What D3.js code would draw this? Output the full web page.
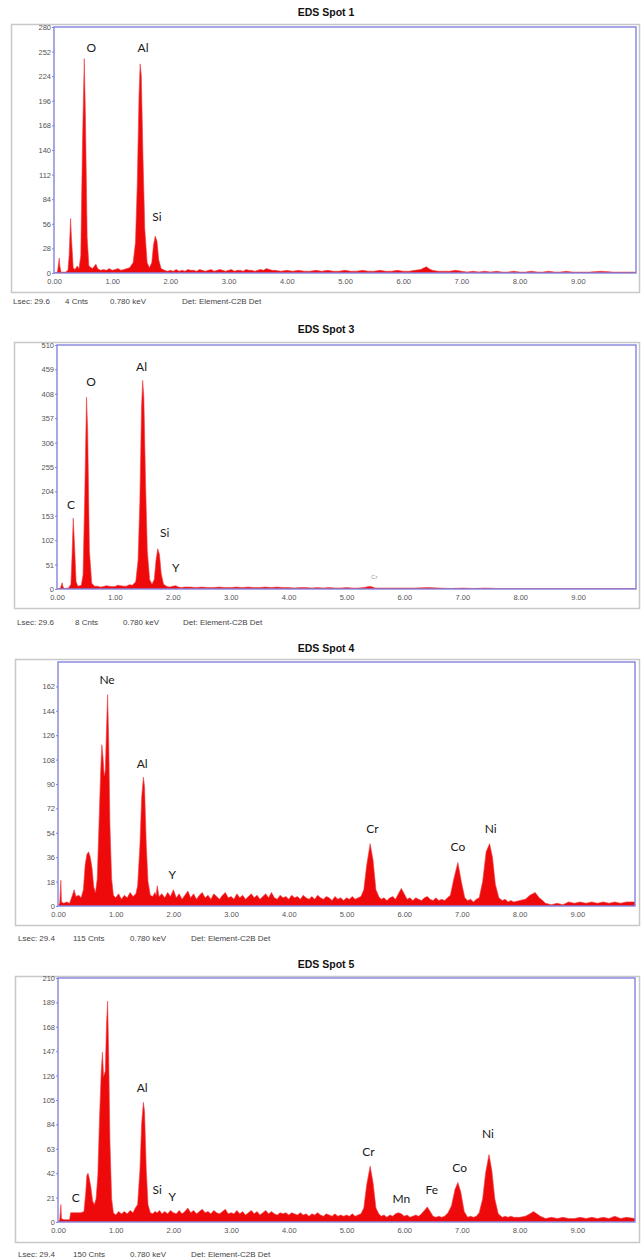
<!DOCTYPE html>
<html><head><meta charset="utf-8">
<script src="https://cdn.jsdelivr.net/npm/d3@7"></script>
<style>body{margin:0;background:#fff}svg{display:block}</style>
</head><body>
<svg id="chart" width="641" height="1260"></svg>
<script>
// ---------- DATA ----------
const titles = ["EDS Spot 1", "EDS Spot 3", "EDS Spot 4", "EDS Spot 5"];
const yMaxes = [280, 510, 180, 210];
const yTicks1 = [0, 28, 56, 84, 112, 140, 168, 196, 224, 252, 280];
const yTicks3 = [0, 51, 102, 153, 204, 255, 306, 357, 408, 459, 510];
const yTicks4 = [0, 18, 36, 54, 72, 90, 108, 126, 144, 162];
const yTicks5 = [0, 21, 42, 63, 84, 105, 126, 147, 168, 189, 210];
const xTicks = [0, 1, 2, 3, 4, 5, 6, 7, 8, 9];
const footers = [
  ["Lsec: 29.6", "4 Cnts", "0.780 keV", "Det: Element-C2B Det"],
  ["Lsec: 29.6", "8 Cnts", "0.780 keV", "Det: Element-C2B Det"],
  ["Lsec: 29.4", "115 Cnts", "0.780 keV", "Det: Element-C2B Det"],
  ["Lsec: 29.4", "150 Cnts", "0.780 keV", "Det: Element-C2B Det"]
];
// spectra: [keV, counts]
const spot1 = [[0,0],[0.06,1],[0.08,12],[0.09,17],[0.10,8],[0.12,1],[0.2,1],[0.24,3],[0.26,20],[0.285,62],[0.30,40],[0.33,6],[0.36,4],[0.40,8],[0.43,5],[0.46,20],[0.49,150],[0.52,244],[0.54,180],[0.57,40],[0.60,8],[0.66,5],[0.72,10],[0.75,5],[0.8,3],[0.85,4],[0.9,3],[0.95,5],[1.0,3],[1.05,4],[1.1,5],[1.15,3],[1.2,4],[1.25,5],[1.3,6],[1.36,12],[1.40,35],[1.43,100],[1.46,200],[1.48,238],[1.50,225],[1.53,130],[1.56,50],[1.60,12],[1.64,6],[1.68,12],[1.71,32],[1.74,42],[1.77,36],[1.80,15],[1.84,5],[1.9,3],[1.95,2],[2.0,3],[2.05,2],[2.1,4],[2.15,2],[2.2,3],[2.25,2],[2.3,4],[2.35,3],[2.4,3],[2.45,2],[2.5,4],[2.55,3],[2.6,2],[2.65,3],[2.7,4],[2.75,2],[2.8,3],[2.85,4],[2.9,3],[2.95,2],[3.0,3],[3.05,4],[3.1,2],[3.15,3],[3.2,3],[3.25,2],[3.3,4],[3.35,3],[3.4,3],[3.45,2],[3.5,3],[3.55,4],[3.6,3],[3.65,5],[3.7,4],[3.75,3],[3.8,3],[3.9,2],[4.0,3],[4.1,2],[4.2,3],[4.3,2],[4.4,2],[4.5,3],[4.6,2],[4.7,3],[4.8,2],[4.9,2],[5.0,3],[5.1,2],[5.2,2],[5.3,3],[5.4,2],[5.5,2],[5.6,3],[5.7,2],[5.8,2],[5.9,3],[6.0,2],[6.1,2],[6.2,3],[6.3,4],[6.36,6],[6.40,7],[6.44,5],[6.5,3],[6.6,2],[6.7,2],[6.8,2],[6.9,3],[7.0,2],[7.1,1],[7.2,2],[7.3,1],[7.4,2],[7.5,1],[7.6,2],[7.7,1],[7.8,1],[7.9,2],[8.0,1],[8.1,1],[8.2,2],[8.3,1],[8.4,1],[8.5,2],[8.6,1],[8.7,1],[8.8,2],[8.9,1],[9.0,1],[9.2,1],[9.4,2],[9.6,1],[9.8,1],[10,1]];
const spot3 = [[0,0],[0.06,2],[0.08,10],[0.09,13],[0.10,6],[0.12,1],[0.2,2],[0.24,10],[0.26,70],[0.28,148],[0.30,100],[0.33,15],[0.36,6],[0.42,8],[0.45,30],[0.48,200],[0.51,401],[0.53,330],[0.56,80],[0.60,12],[0.65,6],[0.7,6],[0.75,4],[0.8,5],[0.85,7],[0.9,6],[0.95,5],[1.0,5],[1.05,8],[1.1,7],[1.15,6],[1.2,6],[1.25,9],[1.3,8],[1.36,15],[1.40,60],[1.43,180],[1.46,380],[1.48,436],[1.50,400],[1.53,220],[1.56,80],[1.60,20],[1.64,10],[1.68,20],[1.71,60],[1.74,84],[1.77,72],[1.80,32],[1.84,10],[1.9,5],[1.95,4],[2.0,6],[2.05,7],[2.1,4],[2.15,3],[2.2,4],[2.3,4],[2.4,3],[2.5,4],[2.6,3],[2.7,3],[2.8,4],[2.9,3],[3.0,3],[3.1,4],[3.2,3],[3.3,4],[3.4,3],[3.5,3],[3.6,4],[3.7,3],[3.8,4],[3.9,3],[4.0,3],[4.1,2],[4.2,3],[4.3,3],[4.4,2],[4.5,3],[4.6,2],[4.7,3],[4.8,2],[4.9,2],[5.0,3],[5.1,2],[5.2,2],[5.3,3],[5.38,5],[5.42,5],[5.5,2],[5.6,2],[5.7,2],[5.8,2],[5.9,2],[6.0,2],[6.2,2],[6.4,3],[6.6,2],[6.8,1],[7.0,2],[7.2,1],[7.4,2],[7.6,1],[7.8,1],[8.0,1],[8.2,1],[8.4,1],[8.6,1],[8.8,1],[9.0,1],[9.3,1],[9.6,1],[10,1]];
const spot4 = [[0,0],[0.03,2],[0.05,19],[0.06,3],[0.10,2],[0.15,3],[0.20,2],[0.25,8],[0.28,12],[0.31,7],[0.36,8],[0.40,6],[0.44,12],[0.47,30],[0.50,38],[0.53,40],[0.56,36],[0.59,28],[0.62,14],[0.65,10],[0.68,20],[0.71,60],[0.74,100],[0.76,119],[0.78,110],[0.80,96],[0.82,100],[0.84,130],[0.86,156],[0.88,120],[0.90,60],[0.93,20],[0.96,8],[1.0,6],[1.05,9],[1.1,5],[1.15,8],[1.2,6],[1.25,10],[1.3,7],[1.35,9],[1.38,15],[1.42,45],[1.45,80],[1.48,95],[1.50,88],[1.53,45],[1.56,18],[1.6,8],[1.64,7],[1.68,10],[1.70,8],[1.72,15],[1.75,7],[1.8,9],[1.85,6],[1.9,10],[1.95,7],[2.0,12],[2.05,6],[2.1,9],[2.15,5],[2.2,8],[2.25,11],[2.3,6],[2.35,9],[2.4,5],[2.45,8],[2.5,10],[2.55,6],[2.6,8],[2.65,5],[2.7,9],[2.75,7],[2.8,5],[2.85,8],[2.9,10],[2.95,6],[3.0,7],[3.05,5],[3.1,9],[3.15,6],[3.2,8],[3.25,5],[3.3,7],[3.35,9],[3.4,6],[3.45,8],[3.5,5],[3.55,7],[3.6,9],[3.65,6],[3.7,10],[3.75,6],[3.8,5],[3.85,8],[3.9,6],[3.95,7],[4.0,5],[4.05,8],[4.1,6],[4.15,7],[4.2,5],[4.25,8],[4.3,6],[4.35,5],[4.4,7],[4.45,5],[4.5,8],[4.55,6],[4.6,5],[4.65,7],[4.7,6],[4.75,4],[4.8,7],[4.85,5],[4.9,6],[4.95,4],[5.0,6],[5.05,5],[5.1,7],[5.15,5],[5.2,6],[5.25,7],[5.3,12],[5.35,30],[5.41,46],[5.46,34],[5.51,12],[5.56,7],[5.6,5],[5.65,6],[5.7,4],[5.75,6],[5.8,7],[5.85,5],[5.9,9],[5.95,13],[6.0,9],[6.05,5],[6.1,6],[6.15,4],[6.2,6],[6.25,5],[6.3,4],[6.35,6],[6.4,7],[6.45,5],[6.5,4],[6.55,6],[6.6,4],[6.65,5],[6.7,4],[6.75,6],[6.8,8],[6.86,20],[6.93,32],[6.99,18],[7.05,6],[7.1,4],[7.15,5],[7.2,3],[7.25,5],[7.3,6],[7.36,18],[7.42,40],[7.48,46],[7.53,36],[7.58,16],[7.64,6],[7.7,4],[7.75,5],[7.8,3],[7.85,4],[7.9,3],[8.0,4],[8.1,5],[8.18,8],[8.27,10],[8.34,6],[8.4,4],[8.45,2],[8.55,1],[8.65,2],[8.75,1],[8.85,3],[8.95,2],[9.05,3],[9.15,2],[9.25,3],[9.35,2],[9.45,3],[9.55,2],[9.65,3],[9.75,2],[9.85,3],[10,3]];
const spot5 = [[0,0],[0.03,2],[0.05,15],[0.06,3],[0.10,2],[0.15,2],[0.20,2],[0.22,8],[0.30,8],[0.40,8],[0.45,9],[0.48,25],[0.50,40],[0.52,42],[0.54,38],[0.57,30],[0.60,18],[0.63,15],[0.66,20],[0.69,40],[0.72,90],[0.75,130],[0.77,146],[0.79,125],[0.82,130],[0.84,170],[0.86,190],[0.88,140],[0.90,70],[0.93,20],[0.96,8],[1.0,6],[1.05,9],[1.1,7],[1.15,9],[1.2,7],[1.25,10],[1.3,8],[1.34,12],[1.38,15],[1.42,45],[1.45,85],[1.48,103],[1.50,95],[1.53,45],[1.56,15],[1.6,8],[1.64,7],[1.68,9],[1.72,8],[1.76,10],[1.8,7],[1.85,9],[1.9,7],[1.95,10],[2.0,8],[2.05,7],[2.1,10],[2.15,7],[2.2,9],[2.25,12],[2.3,8],[2.35,10],[2.4,7],[2.45,9],[2.5,11],[2.55,8],[2.6,9],[2.65,7],[2.7,10],[2.75,8],[2.8,7],[2.85,9],[2.9,11],[2.95,7],[3.0,8],[3.05,7],[3.1,10],[3.15,7],[3.2,9],[3.25,6],[3.3,8],[3.35,10],[3.4,7],[3.45,9],[3.5,6],[3.55,8],[3.6,10],[3.65,7],[3.7,9],[3.75,7],[3.8,6],[3.85,8],[3.9,7],[3.95,8],[4.0,6],[4.05,8],[4.1,7],[4.15,6],[4.2,8],[4.25,6],[4.3,7],[4.35,5],[4.4,7],[4.45,6],[4.5,8],[4.55,6],[4.6,5],[4.65,7],[4.7,6],[4.75,5],[4.8,7],[4.85,5],[4.9,6],[4.95,5],[5.0,6],[5.05,5],[5.1,7],[5.15,5],[5.2,6],[5.25,7],[5.3,12],[5.35,32],[5.41,48],[5.46,34],[5.51,12],[5.56,7],[5.6,5],[5.65,6],[5.7,4],[5.75,6],[5.8,5],[5.85,7],[5.9,8],[5.95,7],[6.0,5],[6.05,6],[6.1,4],[6.15,5],[6.2,6],[6.25,5],[6.3,7],[6.35,10],[6.40,13],[6.45,9],[6.5,5],[6.55,4],[6.6,5],[6.65,4],[6.7,5],[6.76,8],[6.82,14],[6.88,28],[6.93,34],[6.98,26],[7.04,9],[7.1,4],[7.15,5],[7.2,4],[7.25,5],[7.3,8],[7.36,20],[7.41,42],[7.47,58],[7.52,44],[7.57,20],[7.63,7],[7.7,4],[7.75,5],[7.8,4],[7.85,5],[7.9,4],[8.0,4],[8.1,5],[8.18,7],[8.24,9],[8.3,7],[8.36,5],[8.45,3],[8.55,4],[8.65,3],[8.75,4],[8.85,3],[8.95,3],[9.05,4],[9.15,3],[9.25,4],[9.35,3],[9.45,4],[9.55,3],[9.65,5],[9.75,3],[9.85,4],[10,3]];
// peak labels: [text, keV, counts]
const labels1 = [["O",0.64,257],["Al",1.53,257],["Si",1.77,64]];
const labels3 = [["O",0.59,433],["Al",1.46,466],["C",0.24,176],["Si",1.86,119],["Y",2.05,44]];
const labels4 = [["Ne",0.85,167],["Al",1.46,105],["Y",1.98,23],["Cr",5.45,57],["Co",6.93,44],["Ni",7.5,57]];
const labels5 = [["Al",1.46,116],["C",0.31,21],["Si",1.72,28],["Y",1.98,22],["Cr",5.38,61],["Mn",5.95,20],["Fe",6.48,28],["Co",6.96,47],["Ni",7.45,76]];
const minorLabels3 = [["Cr",5.48,25]];

// ---------- LAYOUT ----------
const panels = [
  {data: spot1, ticks: yTicks1, labels: labels1, minor: [], titleY: 12, frame: [11,24,639,292], plot: [54,27,636,273], footY: 301, footX: [13,65,110,182]},
  {data: spot3, ticks: yTicks3, labels: labels3, minor: minorLabels3, titleY: 329, frame: [14,342,639,608], plot: [57,345,636,589], footY: 622, footX: [17,75,123,183]},
  {data: spot4, ticks: yTicks4, labels: labels4, minor: [], titleY: 648, frame: [15,659,639,925], plot: [58,662,635,906], footY: 938, footX: [18,73,130,191]},
  {data: spot5, ticks: yTicks5, labels: labels5, minor: [], titleY: 964, frame: [15,976,639,1242], plot: [58,978,635,1222], footY: 1254, footX: [18,73,130,191]}
];

const svg = d3.select("#chart");

panels.forEach((p, i) => {
  const g = svg.append("g");
  const [fx0, fy0, fx1, fy1] = p.frame;
  const [px0, py0, px1, py1] = p.plot;
  const x = d3.scaleLinear().domain([0, 10]).range([px0, px1]);
  const y = d3.scaleLinear().domain([0, yMaxes[i]]).range([py1, py0]);

  // title
  g.append("text").attr("x", 326).attr("y", p.titleY).attr("text-anchor", "middle")
    .attr("dominant-baseline", "central")
    .style("font-family", "Liberation Sans, Arial, sans-serif").style("font-weight", "bold")
    .style("font-size", "10.5px").attr("fill", "#111").text(titles[i]);

  // outer frame
  g.append("rect").attr("x", fx0 + 0.5).attr("y", fy0 + 0.5).attr("width", fx1 - fx0).attr("height", fy1 - fy0)
    .attr("fill", "#fff").attr("stroke", "#c8c8c8").attr("stroke-width", 1.5);

  // clip for spectrum
  const clipId = "clip" + i;
  svg.append("clipPath").attr("id", clipId).append("rect")
    .attr("x", px0).attr("y", py0).attr("width", px1 - px0).attr("height", py1 - py0);

  // spectrum
  const area = d3.area().x(d => x(d[0])).y0(y(0)).y1(d => y(d[1])).curve(d3.curveLinear);
  g.append("path").datum(p.data).attr("clip-path", `url(#${clipId})`)
    .attr("d", area).attr("fill", "#ee0a0a").attr("stroke", "#f23c42").attr("stroke-width", 0.6);

  // plot border
  g.append("rect").attr("x", px0).attr("y", py0).attr("width", px1 - px0).attr("height", py1 - py0)
    .attr("fill", "none").attr("stroke", "#8383e0").attr("stroke-width", 1.4);

  // y axis
  const ya = g.append("g").attr("transform", `translate(${px0},0)`)
    .call(d3.axisLeft(y).tickValues(p.ticks).tickSize(2).tickPadding(1).tickFormat(d3.format("d")));
  ya.select(".domain").remove();
  ya.selectAll("line").attr("stroke", "#8383e0");
  ya.selectAll("text").style("font-family", "Liberation Sans, Arial, sans-serif").style("font-size", "7.5px").attr("fill", "#555");

  // x axis
  const xa = g.append("g").attr("transform", `translate(0,${py1})`)
    .call(d3.axisBottom(x).tickValues(xTicks).tickSize(0).tickPadding(6).tickFormat(d3.format(".2f")));
  xa.select(".domain").remove();
  xa.selectAll("text").style("font-family", "Liberation Sans, Arial, sans-serif").style("font-size", "7.5px").attr("fill", "#555");

  // peak labels
  g.selectAll("text.peak").data(p.labels).join("text").attr("class", "peak")
    .attr("x", d => x(d[1])).attr("y", d => y(d[2])).attr("text-anchor", "middle")
    .attr("dominant-baseline", "central")
    .style("font-family", "Lato, 'Open Sans', sans-serif").style("font-size", "12px").attr("fill", "#1a1a1a")
    .text(d => d[0]);
  g.selectAll("text.minor").data(p.minor).join("text").attr("class", "minor")
    .attr("x", d => x(d[1])).attr("y", d => y(d[2])).attr("text-anchor", "middle")
    .attr("dominant-baseline", "central")
    .style("font-family", "Liberation Sans, Arial, sans-serif").style("font-size", "6px").attr("fill", "#999")
    .text(d => d[0]);

  // footer
  g.selectAll("text.foot").data(footers[i]).join("text").attr("class", "foot")
    .attr("x", (d, j) => p.footX[j]).attr("y", p.footY).attr("dominant-baseline", "central")
    .style("font-family", "Liberation Sans, Arial, sans-serif").style("font-size", "8px").attr("fill", "#444")
    .text(d => d);
});
</script>
</body></html>
